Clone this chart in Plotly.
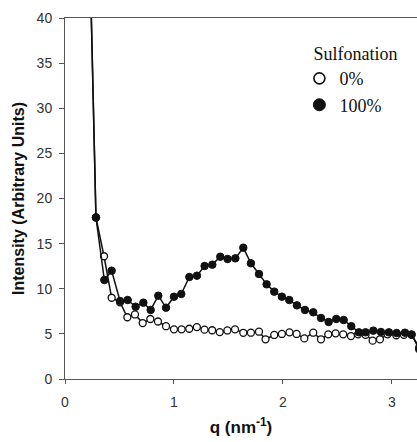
import plotly.graph_objects as go

# q (nm^-1) and intensity for 0% sulfonation (open circles)
q_open = [0.232, 0.284, 0.358, 0.428, 0.505, 0.572, 0.642, 0.713, 0.783, 0.853, 0.927,
          1.0, 1.07, 1.14, 1.21, 1.28, 1.35, 1.42, 1.49, 1.56, 1.636, 1.706, 1.78,
          1.84, 1.92, 1.99, 2.06, 2.125, 2.196, 2.278, 2.349, 2.416, 2.483, 2.553,
          2.624, 2.69, 2.758, 2.823, 2.89, 2.96, 3.04, 3.11, 3.18, 3.25]
i_open = [45.0, 17.9, 13.6, 9.0, 8.5, 6.84, 7.15, 6.2, 6.65, 6.37, 5.85,
          5.5, 5.5, 5.57, 5.75, 5.47, 5.4, 5.2, 5.38, 5.5, 5.12, 5.13, 5.24,
          4.4, 4.88, 4.99, 5.17, 4.99, 4.5, 5.13, 4.4, 4.95, 5.06, 4.95,
          4.76, 4.95, 4.9, 4.25, 4.4, 4.95, 4.85, 4.9, 4.9, 3.5]

# q (nm^-1) and intensity for 100% sulfonation (filled circles)
q_full = [0.232, 0.284, 0.361, 0.428, 0.505, 0.575, 0.648, 0.719, 0.786, 0.856, 0.927,
          1.0, 1.067, 1.141, 1.211, 1.281, 1.352, 1.425, 1.492, 1.563, 1.636, 1.706,
          1.78, 1.85, 1.92, 1.99, 2.058, 2.128, 2.202, 2.278, 2.349, 2.419, 2.489,
          2.557, 2.627, 2.697, 2.758, 2.829, 2.899, 2.972, 3.043, 3.12, 3.18, 3.25]
i_full = [45.0, 17.9, 10.97, 12.0, 8.64, 8.75, 8.01, 8.46, 7.65, 9.23, 7.9,
          9.12, 9.42, 11.3, 11.45, 12.52, 12.67, 13.55, 13.3, 13.37, 14.55, 12.82,
          11.63, 10.49, 9.68, 9.12, 8.75, 8.16, 7.65, 7.39, 6.76, 6.32, 6.65,
          6.54, 5.85, 5.17, 5.17, 5.36, 5.21, 5.17, 5.09, 5.13, 4.94, 3.3]

legend_title = "Sulfonation"
names = ["0%", "100%"]
x_ticks = [0, 1, 2, 3]
y_ticks = [0, 5, 10, 15, 20, 25, 30, 35, 40]

ink = "#111111"
fig = go.Figure()
fig.add_trace(go.Scatter(x=q_open, y=i_open, mode="lines+markers", showlegend=False,
                         line=dict(color=ink, width=1.5),
                         marker=dict(symbol="circle", size=7, color="white",
                                     line=dict(color=ink, width=1.3)),
                         cliponaxis=True))
fig.add_trace(go.Scatter(x=q_full, y=i_full, mode="lines+markers", showlegend=False,
                         line=dict(color=ink, width=1.5),
                         marker=dict(symbol="circle", size=7.5, color=ink,
                                     line=dict(color=ink, width=1)),
                         cliponaxis=True))
# legend entries
fig.add_trace(go.Scatter(x=[None], y=[None], mode="markers", name=names[0],
                         marker=dict(symbol="circle", size=11, color="white",
                                     line=dict(color=ink, width=1.6))))
fig.add_trace(go.Scatter(x=[None], y=[None], mode="markers", name=names[1],
                         marker=dict(symbol="circle", size=12, color=ink,
                                     line=dict(color=ink, width=1))))

axis_font = dict(family="Liberation Sans, Arial, sans-serif", size=14, color="#333333")
fig.update_layout(
    width=417, height=442,
    margin=dict(l=65, r=0, t=18, b=63),
    paper_bgcolor="white", plot_bgcolor="white",
    showlegend=True,
    legend=dict(x=0.70, y=0.948, xanchor="left", yanchor="top",
                bgcolor="rgba(0,0,0,0)",
                title=dict(text=legend_title,
                           font=dict(family="Liberation Serif, Times New Roman, serif",
                                     size=18, color="#111111")),
                font=dict(family="Liberation Serif, Times New Roman, serif",
                          size=18, color="#111111"),
                indentation=-12, itemwidth=30),
    xaxis=dict(range=[0, 3.23], tickvals=x_ticks, ticktext=[str(v) for v in x_ticks],
               showgrid=False, zeroline=False, showline=True, linecolor="#555555",
               linewidth=1, mirror=True, ticks="outside", ticklen=4, tickcolor="#555555",
               tickfont=axis_font, ticklabelstandoff=6, automargin=False,
               title=dict(text="<b>q (nm<sup>-1</sup>)</b>", standoff=12,
                          font=dict(family="Liberation Sans, Arial, sans-serif",
                                    size=17, color="#111111"))),
    yaxis=dict(range=[0, 40], tickvals=y_ticks, ticktext=[str(v) for v in y_ticks],
               showgrid=False, zeroline=False, showline=True, linecolor="#555555",
               linewidth=1, ticks="outside", ticklen=5, tickcolor="#555555",
               tickfont=axis_font, ticklabelstandoff=4, automargin=False,
               title=dict(text="<b>Intensity (Arbitrary Units)</b>", standoff=8,
                          font=dict(family="Liberation Sans, Arial, sans-serif",
                                    size=16, color="#111111"))),
)

fig.write_html("out.html")
